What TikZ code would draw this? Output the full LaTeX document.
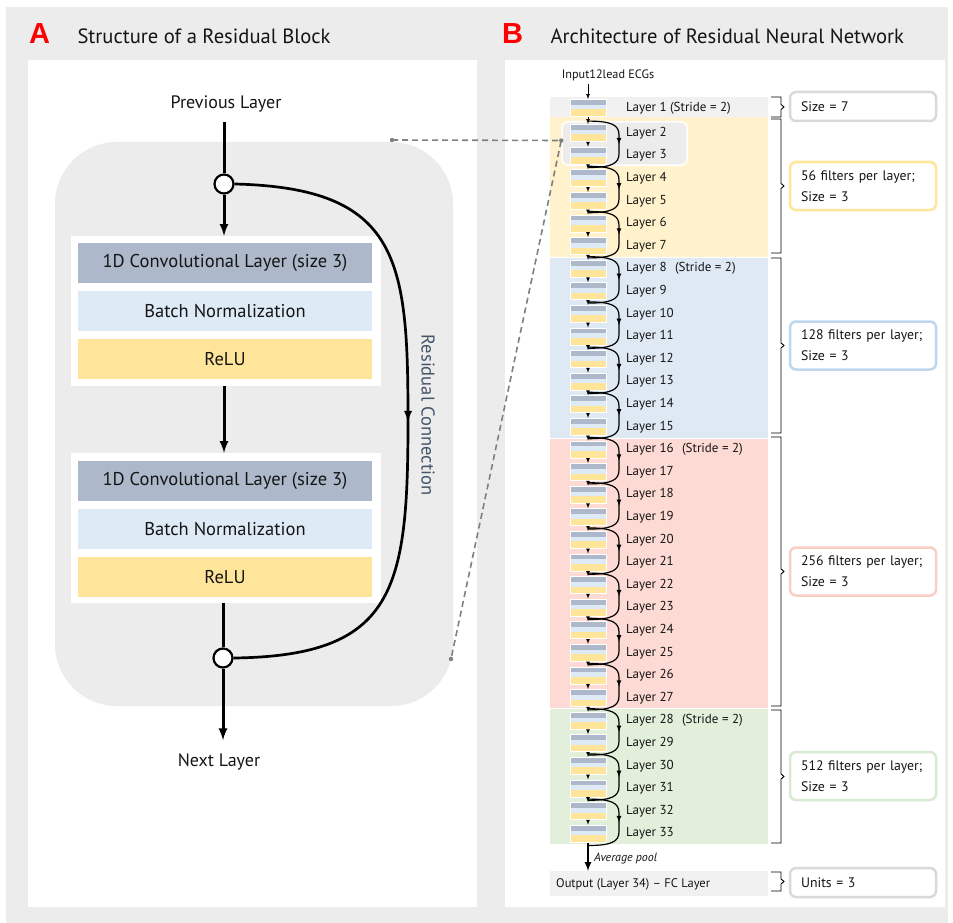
\documentclass[tikz,border=0pt]{standalone}
\usepackage{fontspec}
\setmainfont{PT Sans}
\newfontfamily\tagfont{Liberation Sans}
\usepackage{xcolor}
\usepackage{tikz}
\usetikzlibrary{calc,positioning,decorations.markings}

\definecolor{panelgray}{HTML}{ECECEC}
\definecolor{convc}{HTML}{ADB9CA}
\definecolor{bnc}{HTML}{DEEAF6}
\definecolor{reluc}{HTML}{FFE599}
\definecolor{yelband}{HTML}{FFF2CC}
\definecolor{bluband}{HTML}{DEE9F4}
\definecolor{redband}{HTML}{FDDAD4}
\definecolor{grnband}{HTML}{E2EFDA}
\definecolor{rowgray}{HTML}{F1F1F1}
\definecolor{slate}{HTML}{44546A}
\definecolor{inkc}{HTML}{151515}
\definecolor{linkgray}{HTML}{808080}
\definecolor{edgegray}{HTML}{D9D9D9}
\definecolor{edgeyel}{HTML}{FFE699}
\definecolor{edgeblu}{HTML}{BDD7EE}
\definecolor{edgered}{HTML}{F8CFC6}
\definecolor{edgegrn}{HTML}{D9EAD3}

\newcommand\setfs[1]{\fontsize{#1}{#1}\selectfont}
\newcommand\grpbracket[2]{%
  \pgfmathsetmacro\bmid{(#1+#2)/2}
  \draw[line width=0.9] (771,#1) -- (781,#1) -- (781,\bmid-2.5) -- (784,\bmid) -- (781,\bmid+2.5) -- (781,#2) -- (771,#2);}

\tikzset{
  every node/.style={text=inkc},
  bar/.style={minimum width=294, minimum height=40, inner sep=0, font=\setfs{18.5}},
  whitebox/.style={fill=white, minimum width=310, minimum height=150, inner sep=0},
  sumnode/.style={circle, draw=black, fill=white, line width=2.2, minimum size=19, inner sep=0},
  flow/.style={line width=3, black},
  band/.style={minimum width=218, inner sep=0, anchor=north},
  iconbox/.style={inner sep=0, minimum width=36, minimum height=17, fill=reluc, draw=white, line width=0.8,
    path picture={
      \fill[convc] (path picture bounding box.north west) rectangle ($(path picture bounding box.north east)+(0,5.5)$);
      \fill[bnc] ($(path picture bounding box.north west)+(0,5.5)$) rectangle ($(path picture bounding box.east)+(0,1.5)$);
    }},
  laylab/.style={anchor=west, inner sep=0, font=\setfs{13}},
  infobox/.style={rounded corners=6, fill=white, line width=2.5, minimum width=146, text width=124,
    align=left, inner xsep=11, font=\fontsize{13.8}{21}\selectfont},
  smallarr/.style={-latex, line width=0.7},
  midarrow/.style={postaction={decorate},
    decoration={markings, mark=at position 0.5 with {\arrow{latex}}}},
  skip/.style={line width=1.2, midarrow},
  dashlink/.style={dash pattern=on 6pt off 4pt, line width=1.6, color=linkgray}
}

\begin{document}
\begin{tikzpicture}[x=1pt,y=-1pt]
	\useasboundingbox (0,0) rectangle (953,923);
	\fill[panelgray] (6,7) rectangle (948,923);
	\fill[white] (28,60) rectangle (477,907);
	\fill[white] (505,60) rectangle (945,907);

	\node[anchor=west, font=\tagfont\bfseries\setfs{29}, text=red, inner sep=0] (tagA) at (29,34) {A};
	\node[anchor=west, font=\setfs{20.6}] (titA) at (74,36) {Structure of a Residual Block};
	\node[anchor=west, font=\tagfont\bfseries\setfs{29}, text=red, inner sep=0] (tagB) at (502,34) {B};
	\node[anchor=west, font=\setfs{20.6}] (titB) at (547,36) {Architecture of Residual Neural Network};

	% panel A
	\node[fill=panelgray, rounded corners=62, minimum width=398, minimum height=564, inner sep=0] (blk) at (254,424) {};
	\node[font=\setfs{18}] (prev) at (226,104) {Previous Layer};
	\node[sumnode] (add1) at (224,184) {};
	\node[whitebox] (box1) at (226,311) {};
	\node[bar, fill=convc] (conv1) at (225,263) {1D Convolutional Layer (size 3)};
	\node[bar, fill=bnc] (bn1) at (225,311) {Batch Normalization};
	\node[bar, fill=reluc] (relu1) at (225,359) {ReLU};
	\node[whitebox] (box2) at (226,528) {};
	\node[bar, fill=convc] (conv2) at (225,481) {1D Convolutional Layer (size 3)};
	\node[bar, fill=bnc] (bn2) at (225,529) {Batch Normalization};
	\node[bar, fill=reluc] (relu2) at (225,577) {ReLU};
	\node[sumnode] (add2) at (223,658) {};
	\node[font=\setfs{18}] (next) at (219,762) {Next Layer};

	\draw[flow, shorten <=6pt] (prev.south -| add1) -- (add1);
	\draw[flow, -latex] (add1) -- (box1.north -| add1);
	\draw[flow, -latex] (box1.south -| add1) -- (box2.north -| add1);
	\draw[flow] (box2.south -| add2) -- (add2);
	\draw[flow, -latex] (add2) -- ($(next.north -| add2)+(0,-10)$);
	\draw[flow, line width=2.7, midarrow]
	(add1.east) .. controls (400,188) and (408,260) .. (408,420) .. controls (408,590) and (395,656) .. (add2.east);
	\node[rotate=-90, font=\setfs{18.5}, text=slate] (rescap) at (428,415) {Residual Connection};

	% panel B
	\node[band, fill=rowgray, minimum height=20] (rowone) at (659,97) {};
	\node[band, fill=yelband, minimum height=139.5] (bandY) at (659,117) {};
	\node[band, fill=bluband, minimum height=179.5] (bandB) at (659,258) {};
	\node[band, fill=redband, minimum height=268.5] (bandR) at (659,439) {};
	\node[band, fill=grnband, minimum height=134.5] (bandG) at (659,709) {};
	\node[band, fill=rowgray, minimum height=25] (rowout) at (659,871) {};
	\node[fill=panelgray, draw=white, line width=1.5, rounded corners=6, minimum width=125, minimum height=43, inner sep=0] (hl) at (624.5,143.5) {};

	\coordinate (dA) at (392,140);
	\coordinate (dC) at ($(hl.west)+(0,-3)$);
	\coordinate (dB) at (451,659);
	\draw[dashlink] (dA) -- (dC) -- (dB);
	\foreach \p in {dA,dC,dB} \fill[linkgray] (\p) circle (2.2);

	\node[font=\setfs{12.2}] (inp) at (608,75) {Input12lead ECGs};
	\node[iconbox] (ic1) at (588,108) {};
	\node[laylab] (lab1) at (626,108) {Layer 1 (Stride = 2)};
	\draw[smallarr] (inp.south -| ic1) -- (ic1.north);
	\foreach \i in {2,...,33}{
		\pgfmathsetmacro\yy{133+(\i-2)*22.6}
		\node[iconbox] (ic\i) at (588,\yy) {};
		\node[laylab] (lab\i) at (626,\yy) {Layer \i};
	}
	\foreach \i in {8,16,28}
		\node[laylab, right=8pt of lab\i] (st\i) {(Stride = 2)};
	\foreach \i [evaluate=\i as \j using int(\i+1)] in {1,...,32}
		\draw[smallarr] (ic\i) -- (ic\j);
	\foreach \a [evaluate=\a as \b using int(\a+1)] in {2,4,...,32}{
		\coordinate (jt\a) at ($(ic\a.north)+(0,-3)$);
		\coordinate (jb\a) at ($(ic\b.south)+(0,3)$);
		\draw[skip] (jt\a) .. controls +(24,0) and +(0,-10) .. ($(jt\a)+(31,14)$)
		-- ($(jb\a)+(31,-14)$) .. controls +(0,10) and +(24,0) .. (jb\a);
	}
	\draw[line width=2, -latex] (ic33.south) -- (ic33.south |- rowout.north);
	\node[laylab, font=\itshape\setfs{12}] (avg) at (594,858) {Average pool};
	\node[laylab, font=\setfs{12.5}] (outlab) at (556,884) {Output (Layer 34) -- FC Layer};

	\grpbracket{97}{117}
	\grpbracket{119}{253}
	\grpbracket{258}{433}
	\grpbracket{437}{706}
	\grpbracket{710}{843}
	\grpbracket{872}{891}

	\node[infobox, draw=edgegray, minimum height=29] (sz7) at (863,106.5) {Size = 7};
	\node[infobox, draw=edgeyel, minimum height=48] (f56) at (863,186) {56 filters per layer;\\Size = 3};
	\node[infobox, draw=edgeblu, minimum height=48] (f128) at (863,345.5) {128 filters per layer;\\Size = 3};
	\node[infobox, draw=edgered, minimum height=48] (f256) at (863,571.5) {256 filters per layer;\\Size = 3};
	\node[infobox, draw=edgegrn, minimum height=48] (f512) at (863,776) {512 filters per layer;\\Size = 3};
	\node[infobox, draw=edgegray, minimum height=29] (un3) at (863,882.5) {Units = 3};
\end{tikzpicture}
\end{document}
